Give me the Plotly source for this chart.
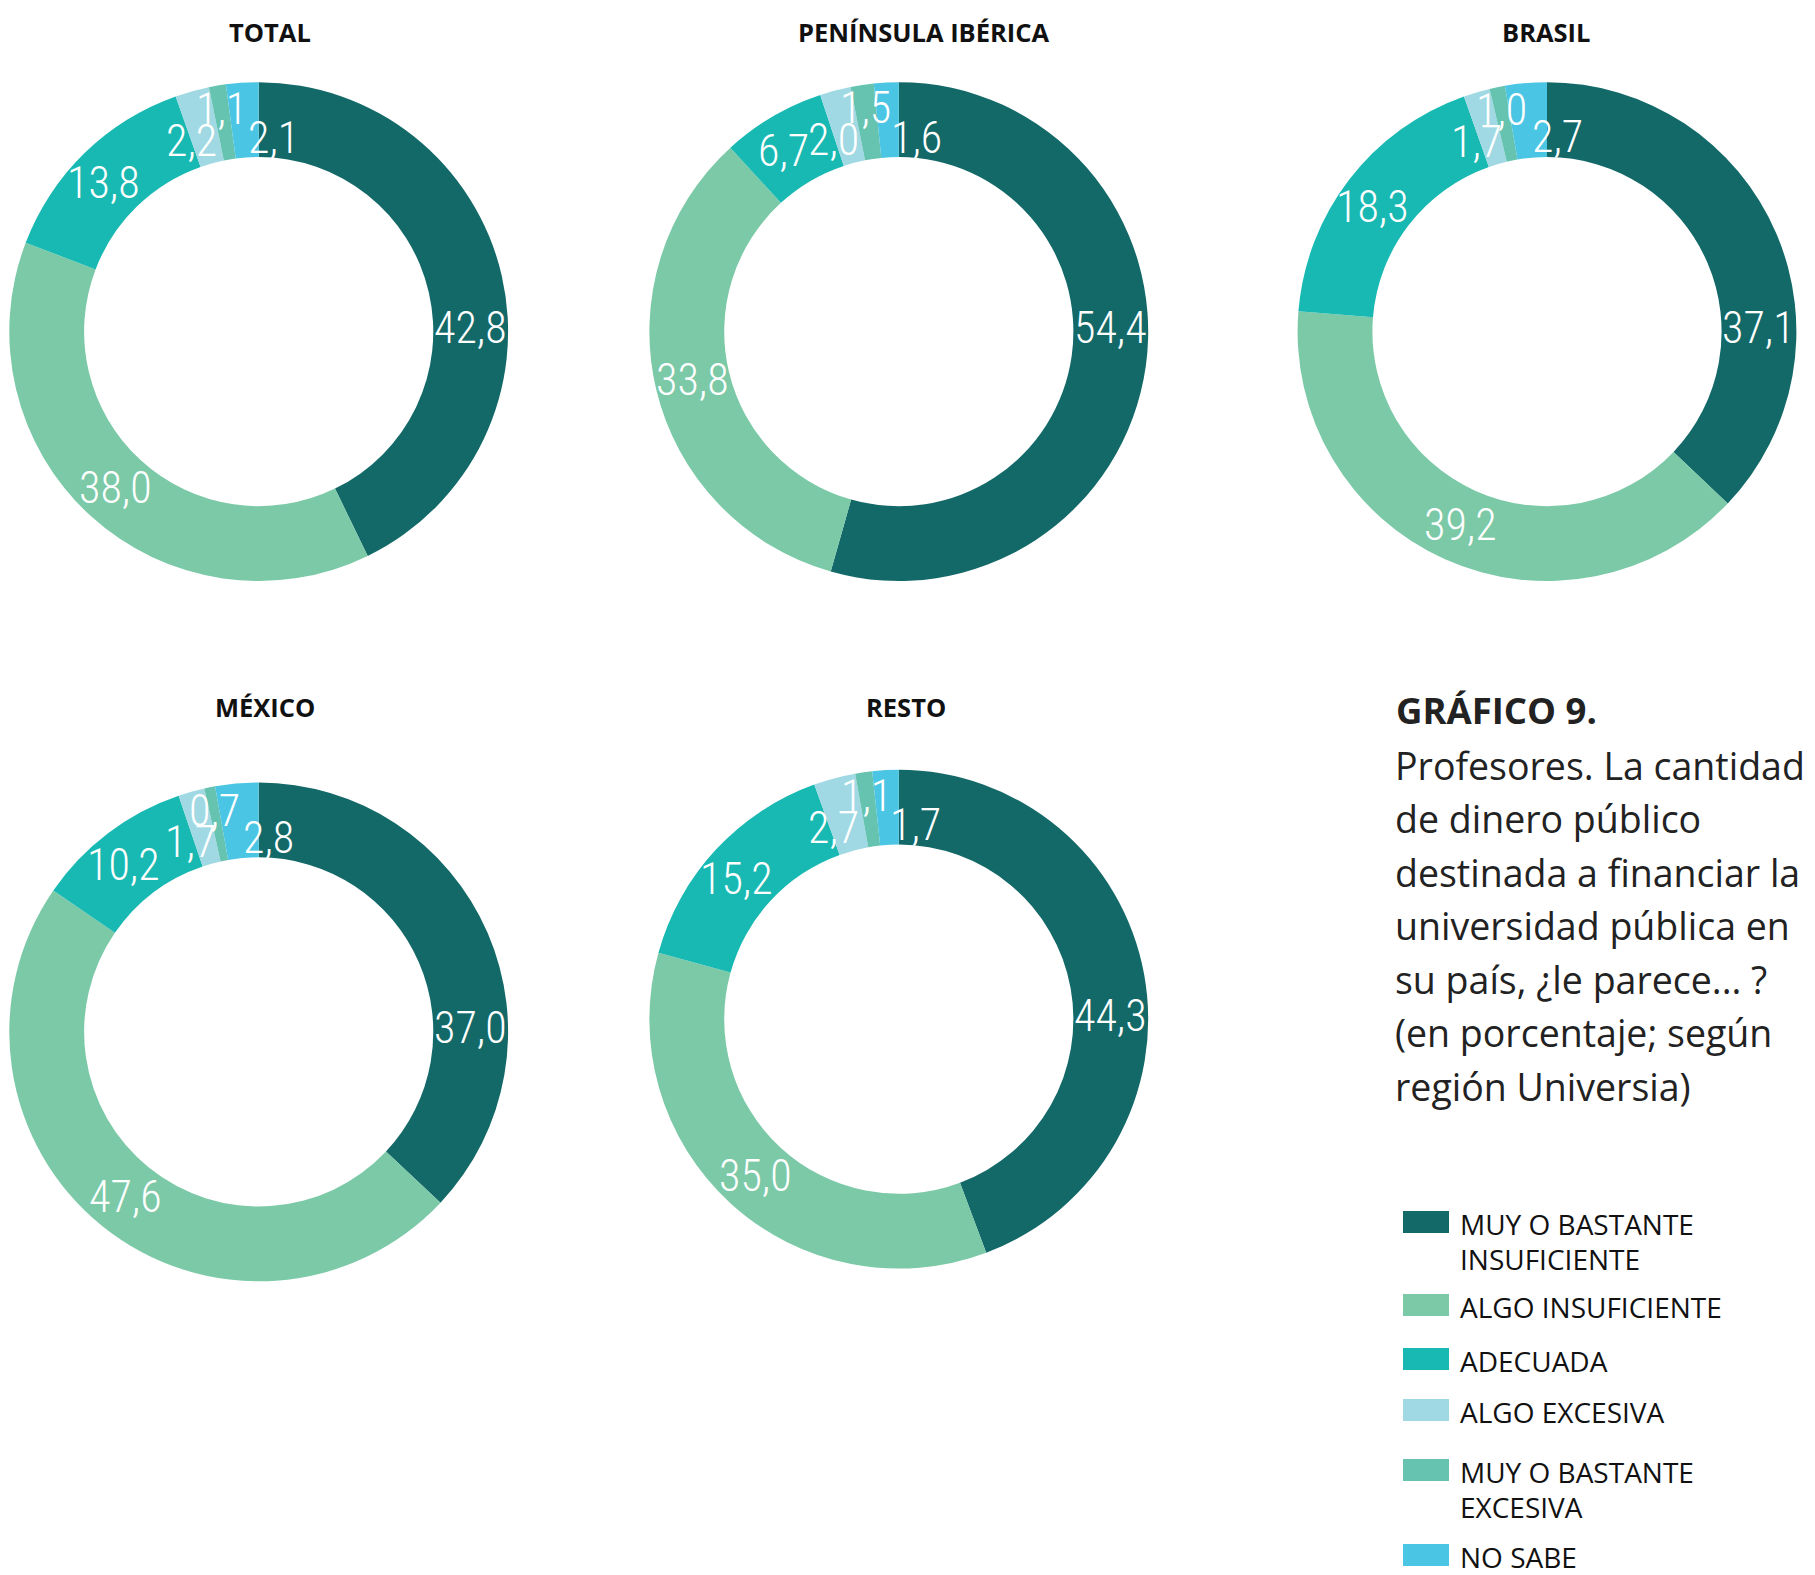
import math
import plotly.graph_objects as go

# Survey answer categories (clockwise order in every ring)
categories = [
    "MUY O BASTANTE INSUFICIENTE",
    "ALGO INSUFICIENTE",
    "ADECUADA",
    "ALGO EXCESIVA",
    "MUY O BASTANTE EXCESIVA",
    "NO SABE",
]
legend_lines = [
    ["MUY O BASTANTE", "INSUFICIENTE"],
    ["ALGO INSUFICIENTE"],
    ["ADECUADA"],
    ["ALGO EXCESIVA"],
    ["MUY O BASTANTE", "EXCESIVA"],
    ["NO SABE"],
]

regions = ["TOTAL", "PENÍNSULA IBÉRICA", "BRASIL", "MÉXICO", "RESTO"]

# Percentages per region
total = [42.8, 38.0, 13.8, 2.2, 1.1, 2.1]
peninsula_iberica = [54.4, 33.8, 6.7, 2.0, 1.5, 1.6]
brasil = [37.1, 39.2, 18.3, 1.7, 1.0, 2.7]
mexico = [37.0, 47.6, 10.2, 1.7, 0.7, 2.8]
resto = [44.3, 35.0, 15.2, 2.7, 1.1, 1.7]
region_values = [total, peninsula_iberica, brasil, mexico, resto]

colors = ["#136868", "#7BC9A7", "#18B9B2", "#A0D9E3", "#66C3B0", "#4AC5E3"]

title_text = "GRÁFICO 9."
body_lines = [
    "Profesores. La cantidad",
    "de dinero público",
    "destinada a financiar la",
    "universidad pública en",
    "su país, ¿le parece... ?",
    "(en porcentaje; según",
    "región Universia)",
]

W, H = 1815, 1575
R = 249.4          # outer ring radius in px
HOLE = 0.70

# ring centres (px from top-left) and title anchors
ring_centres = [(258.7, 331.6), (898.8, 331.6), (1547.0, 331.6),
                (258.7, 1031.9), (898.8, 1019.2)]
title_pos = [(270, 32), (924, 32), (1546, 32), (265, 707), (906, 707)]

# label placement: radius factor and angular shift per category
label_r = [0.85, 0.85, 0.86, 0.81, 0.905, 0.78]
label_shift = [0, 0, -2, -4, 0, 8]

# vertical gap after each legend entry (px)
legend_gaps = [13, 19, 16, 25, 15, 0]

LABEL_FONT = "Liberation Sans Narrow, Roboto Condensed, DejaVu Sans Condensed, Roboto, sans-serif"
TITLE_FONT = "Open Sans, Roboto, sans-serif"
TEXT_FONT = "Open Sans, Roboto, sans-serif"


def px(x):
    return x / W


def py(y):
    return 1 - y / H


fig = go.Figure()
annotations = []
shapes = []

for name, vals, (cx, cy), (tx, ty) in zip(regions, region_values, ring_centres, title_pos):
    fig.add_trace(go.Pie(
        values=vals,
        labels=categories,
        marker=dict(colors=colors, line=dict(width=0)),
        hole=HOLE,
        sort=False,
        direction="clockwise",
        rotation=0,
        textinfo="none",
        showlegend=False,
        hovertemplate="%{label}: %{value:.1f}<extra>" + name + "</extra>",
        domain=dict(x=[px(cx - R), px(cx + R)], y=[py(cy + R), py(cy - R)]),
    ))
    annotations.append(dict(
        x=px(tx), y=py(ty), xref="paper", yref="paper", text="<b>" + name + "</b>",
        showarrow=False, xanchor="center", yanchor="middle",
        font=dict(family=TITLE_FONT, size=25.5, color="#111111"),
    ))
    tot = sum(vals)
    cum = 0.0
    for i, v in enumerate(vals):
        mid = 360 * (cum + v / 2) / tot
        cum += v
        ang = 89 if i == 0 else mid + label_shift[i]
        r = R * label_r[i]
        lx = cx + r * math.sin(math.radians(ang))
        ly = cy - r * math.cos(math.radians(ang))
        annotations.append(dict(
            x=px(lx), y=py(ly), xref="paper", yref="paper",
            text=f"{v:.1f}".replace(".", ","), showarrow=False,
            xanchor="center", yanchor="middle",
            font=dict(family=LABEL_FONT, size=44, color="white", weight=300),
        ))

# Caption block
annotations.append(dict(
    x=px(1394), y=py(709.5), xref="paper", yref="paper", text="<b>" + title_text + "</b>",
    showarrow=False, xanchor="left", yanchor="middle",
    font=dict(family=TEXT_FONT, size=36.5, color="#222222"),
))
for k, line in enumerate(body_lines):
    annotations.append(dict(
        x=px(1393), y=py(765 + 53.5 * k), xref="paper", yref="paper", text=line,
        showarrow=False, xanchor="left", yanchor="middle",
        font=dict(family=TEXT_FONT, size=37.5, color="#222222"),
    ))

# Legend drawn as swatches with labels
top = 1211
for color, lines, gap in zip(colors, legend_lines, legend_gaps):
    shapes.append(dict(
        type="rect", xref="paper", yref="paper",
        x0=px(1403), x1=px(1449), y0=py(top + 22), y1=py(top),
        fillcolor=color, line=dict(width=0),
    ))
    for j, line in enumerate(lines):
        annotations.append(dict(
            x=px(1459), y=py(top + 13 + 35 * j), xref="paper", yref="paper", text=line,
            showarrow=False, xanchor="left", yanchor="middle", borderpad=0,
            font=dict(family=TEXT_FONT, size=28, color="#111111"),
        ))
    top += 35 * len(lines) + gap

fig.update_layout(
    width=W, height=H,
    margin=dict(l=0, r=0, t=0, b=0),
    paper_bgcolor="white", plot_bgcolor="white",
    annotations=annotations, shapes=shapes,
    showlegend=False,
)

fig.write_html("out.html")
